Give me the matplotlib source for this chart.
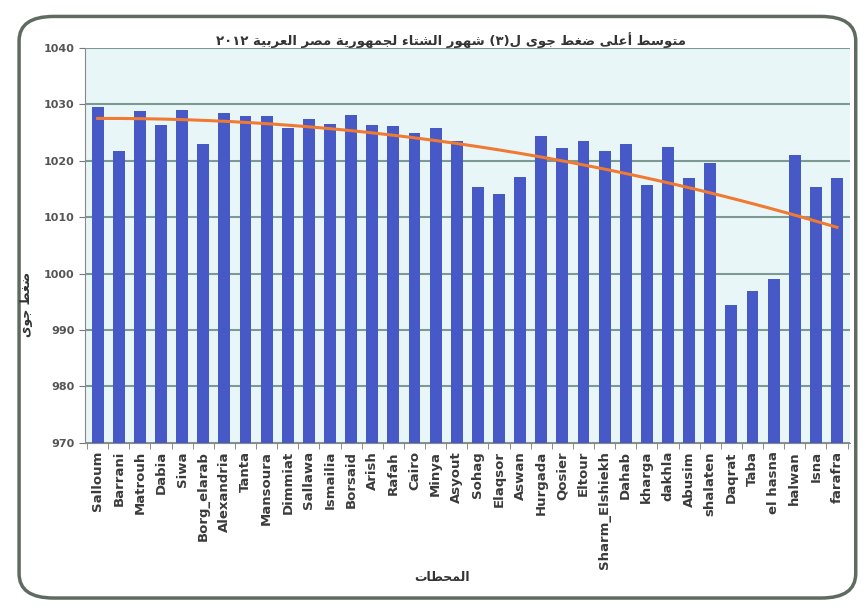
import re
import numpy as np
import matplotlib.pyplot as plt
from matplotlib.patches import FancyBboxPatch

# Station names and mean max winter pressure (hPa)
stations = ["Salloum", "Barrani", "Matrouh", "Dabia", "Siwa", "Borg_elarab",
            "Alexandria", "Tanta", "Mansoura", "Dimmiat", "Sallawa", "Ismailia",
            "Borsaid", "Arish", "Rafah", "Cairo", "Minya", "Asyout", "Sohag",
            "Elaqsor", "Aswan", "Hurgada", "Qosier", "Eltour", "Sharm_Elshiekh",
            "Dahab", "kharga", "dakhla", "Abusim", "shalaten", "Daqrat", "Taba",
            "el hasna", "halwan", "Isna", "farafra"]
pressure = [1029.5, 1021.8, 1028.9, 1026.3, 1029.1, 1023.0, 1028.5, 1027.9,
            1028.0, 1025.9, 1027.5, 1026.6, 1028.1, 1026.4, 1026.1, 1025.0,
            1025.9, 1023.5, 1015.3, 1014.2, 1017.2, 1024.4, 1022.3, 1023.6,
            1021.8, 1023.0, 1015.7, 1022.5, 1016.9, 1019.7, 994.5, 996.9,
            999.0, 1021.0, 1015.4, 1017.0]
yticks = [970, 980, 990, 1000, 1010, 1020, 1030, 1040]

title_ar = "متوسط أعلى ضغط جوى ل(٣) شهور الشتاء لجمهورية مصر العربية ٢٠١٢"
ylabel_ar = "ضغط جوى"
xlabel_ar = "المحطات"

# minimal arabic shaping (matplotlib has no bidi / joining support)
FORMS = {
    'ء': (0xFE80, 1), 'أ': (0xFE83, 2), 'ا': (0xFE8D, 2), 'ب': (0xFE8F, 4),
    'ة': (0xFE93, 2), 'ت': (0xFE95, 4), 'ث': (0xFE99, 4), 'ج': (0xFE9D, 4),
    'ح': (0xFEA1, 4), 'خ': (0xFEA5, 4), 'د': (0xFEA9, 2), 'ذ': (0xFEAB, 2),
    'ر': (0xFEAD, 2), 'ز': (0xFEAF, 2), 'س': (0xFEB1, 4), 'ش': (0xFEB5, 4),
    'ص': (0xFEB9, 4), 'ض': (0xFEBD, 4), 'ط': (0xFEC1, 4), 'ظ': (0xFEC5, 4),
    'ع': (0xFEC9, 4), 'غ': (0xFECD, 4), 'ف': (0xFED1, 4), 'ق': (0xFED5, 4),
    'ك': (0xFED9, 4), 'ل': (0xFEDD, 4), 'م': (0xFEE1, 4), 'ن': (0xFEE5, 4),
    'ه': (0xFEE9, 4), 'و': (0xFEED, 2), 'ى': (0xFEEF, 2), 'ي': (0xFEF1, 4),
}


def arabic(text):
    out = []
    for i, c in enumerate(text):
        if c not in FORMS:
            out.append(c)
            continue
        base, n = FORMS[c]
        prev = text[i - 1] if i > 0 else ''
        nxt = text[i + 1] if i + 1 < len(text) else ''
        jp = n > 1 and prev in FORMS and FORMS[prev][1] == 4
        jn = n == 4 and nxt in FORMS and FORMS[nxt][1] > 1
        if jp and jn:
            off = 3
        elif jn:
            off = 2
        elif jp:
            off = 1
        else:
            off = 0
        out.append(chr(base + off))
    vis = ''.join(out)[::-1]
    vis = re.sub(r'[0-9\u0660-\u0669]+', lambda m: m.group(0)[::-1], vis)
    return vis.translate(str.maketrans('()', ')('))


plt.rcParams['font.family'] = ['DejaVu Sans']

fig = plt.figure(figsize=(8.67, 6.09), dpi=100)
fig.patch.set_facecolor('white')
frame = FancyBboxPatch((0.022, 0.018), 0.965, 0.955,
                       boxstyle="round,pad=0,rounding_size=0.04",
                       transform=fig.transFigure, facecolor='none',
                       edgecolor='#5f6b60', linewidth=2.5)
fig.patches.append(frame)

ax = fig.add_axes([0.098, 0.273, 0.882, 0.648])
ax.set_facecolor('#e8f6f8')

x = np.arange(len(stations))
ax.bar(x, np.array(pressure) - 970, bottom=970, width=0.56,
       color='#4659c6', zorder=3)

# polynomial trendline (order 2) like the excel one
coef = np.polyfit(x, pressure, 2)
xs = np.linspace(0, len(stations) - 1, 200)
ax.plot(xs, np.polyval(coef, xs), color='#f07a32', linewidth=2.2, zorder=4)

ax.set_ylim(970, 1040)
ax.set_xlim(-0.6, len(stations) - 0.4)
ax.set_yticks(yticks)
ax.set_yticklabels([str(t) for t in yticks], fontsize=8, fontweight='bold',
                   color='#555555')
ax.yaxis.grid(True, color='#7c9a92', linewidth=1.5, zorder=0)
ax.set_xticks(x)
ax.set_xticklabels(stations, rotation=90, fontsize=9.5, fontweight='bold',
                   color='#3a3a3a')
ax.tick_params(axis='x', length=0, pad=6)
ax.tick_params(axis='y', length=4, color='#777777', direction='out')
ax.set_xticks(np.arange(-0.5, len(stations), 1), minor=True)
ax.tick_params(axis='x', which='minor', length=4, color='#777777')
for side in ['top', 'right']:
    ax.spines[side].set_visible(False)
ax.spines['left'].set_color('#888888')
ax.spines['bottom'].set_color('#888888')

fig.text(0.52, 0.935, arabic(title_ar), ha='center', va='center',
         fontsize=9.5, fontweight='bold', color='#333333')
fig.text(0.03, 0.50, arabic(ylabel_ar), ha='center', va='center',
         rotation=90, fontsize=9, fontweight='bold', color='#333333')
fig.text(0.51, 0.052, arabic(xlabel_ar), ha='center', va='center',
         fontsize=9, fontweight='bold', color='#333333')

fig.savefig('out.png', dpi=100)
